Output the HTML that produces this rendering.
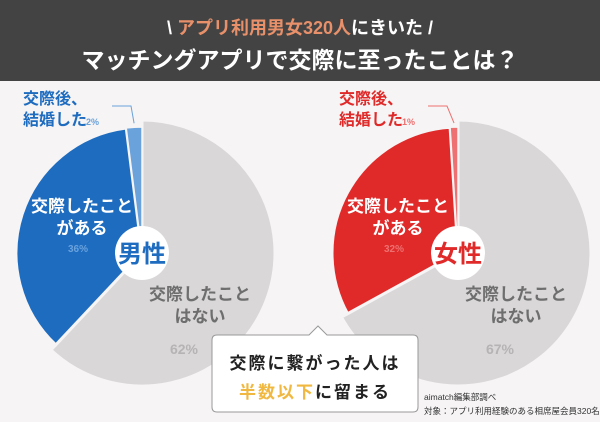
<!DOCTYPE html>
<html><head><meta charset="utf-8"><style>
body{margin:0;width:600px;height:422px;overflow:hidden;background:#f6f4f4;font-family:"Liberation Sans","Noto Sans CJK JP",sans-serif;}
svg{display:block}
</style></head><body>
<svg id="c" width="600" height="422" xmlns="http://www.w3.org/2000/svg">
<rect x="0" y="0" width="600" height="422" fill="#f6f4f4"/>
<rect x="0" y="0" width="600" height="81" fill="#434343"/>
<text x="300" y="34" text-anchor="middle" font-size="18" font-weight="bold" fill="#fff">\ <tspan fill="#e8906a">アプリ利用男女320人</tspan>にきいた /</text>
<text x="300" y="68" text-anchor="middle" font-size="23" font-weight="bold" fill="#fff">マッチングアプリで交際に至ったことは？</text>
<g id="pies"></g>
<path d="M212 340 Q212 335 217 335 L309 335 L318 326 L327 335 L413 335 Q418 335 418 340 L418 407 Q418 412 413 412 L217 412 Q212 412 212 407 Z" fill="#fff" stroke="#999" stroke-width="1"/>
<text x="315" y="369" text-anchor="middle" font-size="17" font-weight="bold" fill="#222" letter-spacing="2">交際に繋がった人は</text>
<text x="315" y="398" text-anchor="middle" font-size="17" font-weight="bold" fill="#222" letter-spacing="2"><tspan fill="#f0b840">半数以下</tspan>に留まる</text>
<text x="424" y="400" font-size="8.5" fill="#333">aimatch編集部調べ</text>
<text x="424" y="414" font-size="8.5" fill="#333">対象：アプリ利用経験のある相席屋会員320名</text>
</svg>
<script>
const genders = ['男性', '女性'];
const neverValues = [62, 67];
const datedValues = [36, 32];
const marriedValues = [2, 1];
const NS = 'http://www.w3.org/2000/svg';
const g = document.getElementById('pies');
const centers = [[142, 253], [458, 253]];
const cols = [['#1e6cc0', '#6aa2dc', '#1e6cc0'], ['#e02a2a', '#ee7070', '#e02a2a']];
function pt(cx, cy, r, p){const a = p / 100 * 2 * Math.PI; return [cx + r * Math.sin(a), cy - r * Math.cos(a)];}
function arc(cx, cy, r, p0, p1){const s = pt(cx, cy, r, p0), e = pt(cx, cy, r, p1); const large = (p1 - p0) > 50 ? 1 : 0; return `M${cx} ${cy} L${s[0]} ${s[1]} A${r} ${r} 0 ${large} 1 ${e[0]} ${e[1]} Z`;}
function mk(tag, attrs, txt){const el = document.createElementNS(NS, tag); for (const k in attrs) el.setAttribute(k, attrs[k]); if (txt) el.textContent = txt; g.appendChild(el); return el;}
for (let i = 0; i < 2; i++){
  const [cx, cy] = centers[i];
  const total = neverValues[i] + datedValues[i] + marriedValues[i];
  const n = neverValues[i] / total * 100, d = datedValues[i] / total * 100;
  let el = mk('path', {d: arc(cx, cy, 133, 0, n), fill: '#d9d7d7', stroke: '#f6f4f4', 'stroke-width': 3});
  
  
  el = mk('path', {d: arc(cx, cy, 126, n, n + d), fill: cols[i][0], stroke: '#f6f4f4', 'stroke-width': 3});
  
  
  el = mk('path', {d: arc(cx, cy, 126, n + d, 100), fill: cols[i][1], stroke: '#f6f4f4', 'stroke-width': 1.5});
  
  
  el = mk('circle', {cx: cx, cy: cy, r: 27, fill: '#fff'});
  
  
  el = mk('text', {x: cx, y: cy + 9, 'text-anchor': 'middle', 'font-size': 24, 'font-weight': 'bold', fill: cols[i][2]}, genders[i]);
  
  
  el = mk('text', {x: cx - 60, y: cy - 41, 'text-anchor': 'middle', 'font-size': 17, 'font-weight': 'bold', fill: '#fff'}, '交際したこと');
  
  
  el = mk('text', {x: cx - 60, y: cy - 19, 'text-anchor': 'middle', 'font-size': 17, 'font-weight': 'bold', fill: '#fff'}, 'がある');
  
  
  el = mk('text', {x: cx - 64, y: cy - 1, 'text-anchor': 'middle', 'font-size': 10, 'font-weight': 'bold', fill: cols[i][1]}, datedValues[i] + '%');
  
  
  el = mk('text', {x: cx + 58, y: cy + 47, 'text-anchor': 'middle', 'font-size': 17, 'font-weight': 'bold', fill: '#6e6e6e'}, '交際したこと');
  
  
  el = mk('text', {x: cx + 58, y: cy + 69, 'text-anchor': 'middle', 'font-size': 17, 'font-weight': 'bold', fill: '#6e6e6e'}, 'はない');
  
  
  el = mk('text', {x: cx + 42, y: cy + 101, 'text-anchor': 'middle', 'font-size': 14, 'font-weight': 'bold', fill: '#b5b3b3'}, neverValues[i] + '%');
  
  
  el = mk('text', {x: cx - 119, y: cy - 149, 'font-size': 16, 'font-weight': 'bold', fill: cols[i][2]}, '交際後、');
  
  
  el = mk('text', {x: cx - 119, y: cy - 128, 'font-size': 16, 'font-weight': 'bold', fill: cols[i][2]}, '結婚した');
  
  
  el = mk('text', {x: cx - 56, y: cy - 128, 'font-size': 9, 'font-weight': 'bold', fill: cols[i][1]}, marriedValues[i] + '%');
  
  
  const tip = pt(cx, cy, 126, n + d + (100 - n - d) / 2);
  el = mk('polyline', {points: `${cx - 30},${cy - 147} ${cx - 11},${cy - 147} ${tip[0]},${tip[1] - 4}`, fill: 'none', stroke: cols[i][1], 'stroke-width': 1});
  
  
}
</script>
</body></html>
